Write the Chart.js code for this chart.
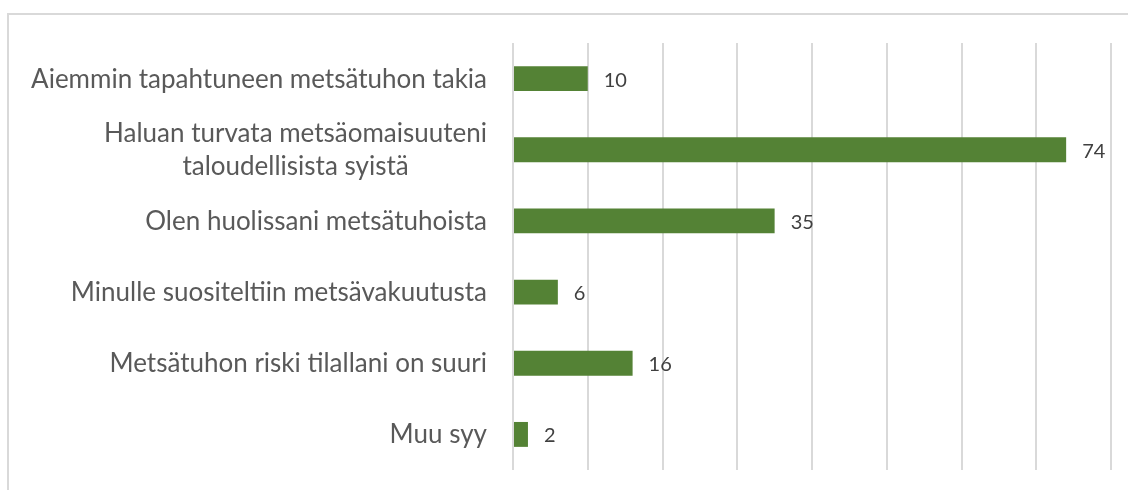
<!DOCTYPE html>
<html>
<head>
<meta charset="utf-8">
<script src="https://cdn.jsdelivr.net/npm/chart.js@4/dist/chart.umd.min.js"></script>
<style>
html,body{margin:0;padding:0;background:#fff;}
#wrap{width:1128px;height:490px;position:relative;}
</style>
</head>
<body>
<div id="wrap"><canvas id="c" width="1128" height="490"></canvas></div>
<script>
const categories = [
  ["Aiemmin tapahtuneen metsätuhon takia"],
  ["Haluan turvata metsäomaisuuteni", "taloudellisista syistä"],
  ["Olen huolissani metsätuhoista"],
  ["Minulle suositeltiin metsävakuutusta"],
  ["Metsätuhon riski tilallani on suuri"],
  ["Muu syy"]
];
const values = [10, 74, 35, 6, 16, 2];
const axisMin = 0, axisMax = 80, axisStep = 10;

const LABEL_FONT = '26px Lato, "Open Sans", sans-serif';
const VALUE_FONT = '20px Lato, "Open Sans", sans-serif';

const framePlugin = {
  id: 'frame',
  beforeDraw(chart) {
    const ctx = chart.ctx;
    ctx.save();
    ctx.fillStyle = '#ffffff';
    ctx.fillRect(0, 0, chart.width, chart.height);
    ctx.strokeStyle = '#d9d9d9';
    ctx.lineWidth = 2;
    ctx.strokeRect(8, 14, chart.width + 20, chart.height + 20);
    ctx.restore();
  }
};

const labelPlugin = {
  id: 'catLabels',
  afterDraw(chart) {
    const ctx = chart.ctx;
    const yScale = chart.scales.y;
    const rightEdge = yScale.right - 26;
    const lineH = 33;
    ctx.save();
    ctx.font = LABEL_FONT;
    ctx.fillStyle = '#595959';
    ctx.textBaseline = 'alphabetic';
    categories.forEach((lines, i) => {
      const cy = yScale.getPixelForValue(i);
      const widths = lines.map(l => ctx.measureText(l).width);
      const blockW = Math.max(...widths);
      const centerX = rightEdge - blockW / 2;
      const firstBase = cy + 9 - (lines.length - 1) * lineH / 2;
      ctx.textAlign = 'center';
      lines.forEach((l, j) => ctx.fillText(l, centerX, firstBase + j * lineH));
    });
    ctx.restore();
  }
};

const valuePlugin = {
  id: 'valLabels',
  afterDatasetsDraw(chart) {
    const ctx = chart.ctx;
    const meta = chart.getDatasetMeta(0);
    ctx.save();
    ctx.font = VALUE_FONT;
    ctx.fillStyle = '#404040';
    ctx.textBaseline = 'alphabetic';
    ctx.textAlign = 'left';
    meta.data.forEach((bar, i) => {
      ctx.fillText(String(values[i]), bar.x + 16, bar.y + 8);
    });
    ctx.restore();
  }
};

new Chart(document.getElementById('c'), {
  type: 'bar',
  data: {
    labels: categories,
    datasets: [{
      data: values,
      backgroundColor: '#548235',
      borderWidth: 0,
      barPercentage: 0.35,
      categoryPercentage: 1
    }]
  },
  options: {
    indexAxis: 'y',
    responsive: false,
    animation: false,
    devicePixelRatio: 1,
    layout: { padding: { top: 43, bottom: 20, right: 17, left: 0 } },
    plugins: { legend: { display: false }, tooltip: { enabled: false } },
    scales: {
      x: {
        min: axisMin, max: axisMax,
        ticks: { display: false, stepSize: axisStep },
        grid: { color: '#d9d9d9', lineWidth: 2, drawTicks: false, tickLength: 0 },
        border: { display: false }
      },
      y: {
        ticks: { display: false },
        grid: { display: false, drawTicks: false },
        border: { display: false },
        afterFit(scale) { scale.width = 513; }
      }
    }
  },
  plugins: [framePlugin, labelPlugin, valuePlugin]
});
</script>
</body>
</html>
